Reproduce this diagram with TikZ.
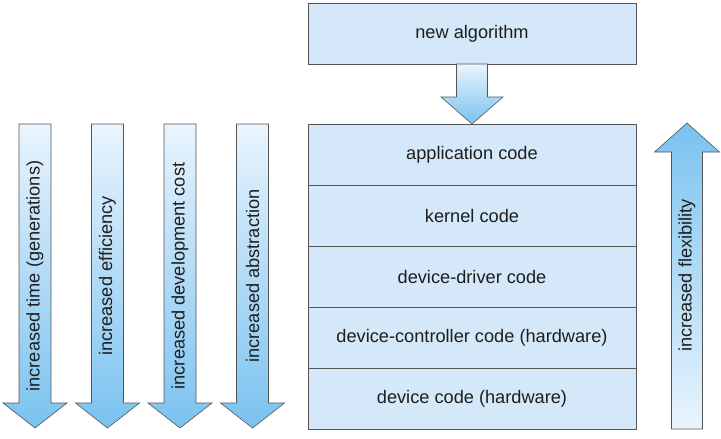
\documentclass[tikz,border=0pt]{standalone}
\usepackage{fontspec}
\setmainfont{Liberation Sans}
\usepackage{tikz}
\usetikzlibrary{positioning}
\definecolor{layerbg}{RGB}{212,232,250}
\definecolor{layerborder}{RGB}{85,85,85}
\definecolor{arrowlight}{RGB}{234,244,253}
\definecolor{arrowdark}{RGB}{122,194,240}
\definecolor{textgray}{RGB}{30,30,30}
\tikzset{
  layerbox/.style={
    draw=layerborder, fill=layerbg, line width=0.8pt,
    minimum width=328pt, minimum height=61pt,
    inner sep=0pt, outer sep=0pt,
    font=\fontsize{18.2}{21}\selectfont\color{textgray}
  },
  trendshape/.style={
    draw=layerborder, line width=0.6pt, line join=miter
  },
  downshade/.style={
    trendshape, top color=arrowlight, bottom color=arrowdark
  },
  upshade/.style={
    trendshape, top color=arrowdark, bottom color=arrowlight
  },
  trendlabel/.style={
    rotate=90, inner sep=0pt,
    font=\fontsize{18.2}{21}\selectfont\color{textgray}
  },
}

\begin{document}
\begin{tikzpicture}[x=1pt, y=-1pt]
    \useasboundingbox (0,0) rectangle (721,439);

    %% Layer stack
    \node[layerbox] (algo) at (472,33.5) {new algorithm};
    \node[layerbox] (app) at (472,154.5) {application code};
    \node[layerbox, below=0pt of app] (kern) {kernel code};
    \node[layerbox, below=0pt of kern] (drv) {device-driver code};
    \node[layerbox, below=0pt of drv] (ctrl) {device-controller code (hardware)};
    \node[layerbox, below=0pt of ctrl] (dev) {device code (hardware)};

    %% New algorithm flows in at the top
    \draw[downshade] ([xshift=-15.5pt]algo.south) -- ([xshift=15.5pt]algo.south)
      -- ++(0,33) -- ++(15.5,0) -- (app.north) -- ++(-31,-27) -- ++(15.5,0) -- cycle;

    %% Trends along the stack
    \draw[downshade] (19,124) -- ++(32,0) -- ++(0,279) -- ++(16,0)
      -- ++(-32,25) -- ++(-32,-25) -- ++(16,0) -- cycle;
    \node[trendlabel] (time) at (35,276) {increased time (generations)};

    \draw[downshade] (91.5,124) -- ++(32,0) -- ++(0,279) -- ++(16,0)
      -- ++(-32,25) -- ++(-32,-25) -- ++(16,0) -- cycle;
    \node[trendlabel] (eff) at (107.5,276) {increased efficiency};

    \draw[downshade] (164,124) -- ++(32,0) -- ++(0,279) -- ++(16,0)
      -- ++(-32,25) -- ++(-32,-25) -- ++(16,0) -- cycle;
    \node[trendlabel] (cost) at (180,276) {increased development cost};

    \draw[downshade] (236.5,124) -- ++(32,0) -- ++(0,279) -- ++(16,0)
      -- ++(-32,25) -- ++(-32,-25) -- ++(16,0) -- cycle;
    \node[trendlabel] (abst) at (252.5,276) {increased abstraction};

    \draw[upshade] (671.5,429) -- ++(31,0) -- ++(0,-277) -- ++(17,0)
      -- ++(-32.5,-29) -- ++(-32.5,29) -- ++(17,0) -- cycle;
    \node[trendlabel] (flex) at (687,275.5) {increased flexibility};

  \end{tikzpicture}
\end{document}
